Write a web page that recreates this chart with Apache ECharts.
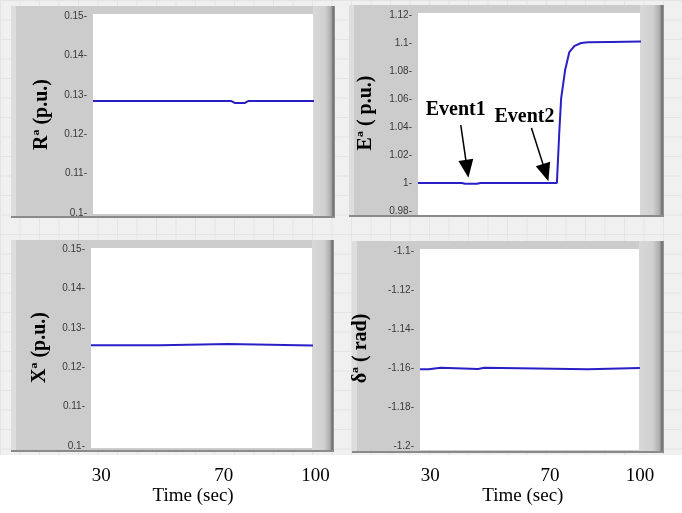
<!DOCTYPE html>
<html>
<head>
<meta charset="utf-8">
<script src="https://cdn.jsdelivr.net/npm/echarts@6/dist/echarts.min.js"></script>
<style>
  html, body { margin: 0; padding: 0; background: #fff; }
  #wrap { position: relative; width: 682px; height: 513px; }
  #bg {
    position: absolute; left: 0; top: 0; width: 682px; height: 455px;
    background-color: #f0f0f0;
    background-image: linear-gradient(#e4e4e4 1px, transparent 1px),
                      linear-gradient(90deg, #e4e4e4 1px, transparent 1px);
    background-size: 19.5px 19.5px;
  }
  #main { position: absolute; left: 0; top: 0; width: 682px; height: 513px; }
</style>
</head>
<body>
<div id="wrap">
  <div id="bg"></div>
  <div id="main"></div>
</div>
<script>
// time breakpoints (sec) and values
const rTime = [26.5, 72, 73.2, 76.3, 77.5, 100];
const rVal  = [0.1284, 0.1284, 0.1279, 0.1279, 0.1284, 0.1284];

const eTime = [26.5, 41, 42, 46, 47, 72.3, 73.1, 73.7, 75.0, 76.4, 78.1, 80.3, 82.5, 90, 100];
const eVal  = [1.0, 1.0, 0.9995, 0.9995, 1.0, 1.0, 1.037, 1.0605, 1.0805, 1.0935, 1.098, 1.1, 1.1005, 1.1008, 1.101];

const xTime = [26.5, 49.2, 49.3, 71.4, 71.5, 100];
const xVal  = [0.1256, 0.1256, 0.1259, 0.1259, 0.1255, 0.1255];

const dTime = [26.5, 29.4, 29.5, 33.4, 33.5, 45.9, 46, 48, 48.1, 82.6, 82.7, 100];
const dVal  = [-1.1607, -1.1607, -1.1599, -1.1599, -1.1605, -1.1605, -1.1599, -1.1599, -1.1606, -1.1606, -1.1600, -1.1600];

const timeTicks = [30, 70, 100];
const yNames = ['Rª (p.u.)', 'Eª ( p.u.)', 'Xª (p.u.)', 'δª ( rad)'];

const pair = (t, v) => t.map((x, i) => [x, v[i]]);
const lineColor = '#2a1fc4';

// plot areas (white) and panel frames
const plots = [
  {left: 93, top: 16, width: 220, height: 197},
  {left: 418, top: 15, width: 222, height: 196},
  {left: 91, top: 249, width: 221, height: 197},
  {left: 420, top: 251, width: 219, height: 195}
];
const frames = [
  {x: 11, y: 6, r: 335, b: 218, wt: 14, wb: 214},
  {x: 349, y: 5, r: 664, b: 217, wt: 13, wb: 215},
  {x: 11, y: 240, r: 334, b: 452, wt: 248, wb: 448},
  {x: 352, y: 241, r: 664, b: 453, wt: 249, wb: 450}
];

const graphic = [];
frames.forEach((f, i) => {
  const p = plots[i];
  const pr = p.left + p.width;
  graphic.push({type: 'rect', z: -10, shape: {x: f.x, y: f.y, width: f.r - f.x, height: f.b - f.y},
    style: {fill: '#cccccc'}});
  graphic.push({type: 'rect', z: -9, shape: {x: f.x, y: f.y, width: 5, height: f.b - f.y},
    style: {fill: '#dddddd'}});
  graphic.push({type: 'rect', z: -9, shape: {x: pr, y: f.y, width: f.r - pr, height: f.b - f.y},
    style: {fill: new echarts.graphic.LinearGradient(0, 0, 1, 0, [
      {offset: 0, color: '#d8d8d8'},
      {offset: 0.55, color: '#d0d0d0'},
      {offset: 0.82, color: '#acacac'},
      {offset: 0.92, color: '#6c6c6c'},
      {offset: 1, color: '#a0a0a0'}
    ])}});
  graphic.push({type: 'rect', z: -8, shape: {x: f.x, y: f.b - 2, width: f.r - f.x, height: 2},
    style: {fill: '#8a8a8a'}});
  graphic.push({type: 'rect', z: -7, shape: {x: p.left, y: f.wt, width: p.width, height: f.wb - f.wt},
    style: {fill: '#ffffff'}});
});

const yRanges = [
  {min: 0.1, max: 0.15, interval: 0.01, gap: 41},
  {min: 0.98, max: 1.12, interval: 0.02, gap: 42},
  {min: 0.1, max: 0.15, interval: 0.01, gap: 41},
  {min: -1.2, max: -1.1, interval: 0.02, gap: 49}
];
const xMax = [98.8, 99.7, 98.8, 99.7];

const grids = plots.map(p => Object.assign({show: false}, p));
// two thin grids carrying the time labels below the bottom row
grids.push({left: 90.6, top: 447, width: 225, height: 1});
grids.push({left: 419.7, top: 447, width: 220.3, height: 1});

const xAxes = plots.map((p, i) => ({
  type: 'value', gridIndex: i, min: 26.5, max: xMax[i], show: false
}));
[4, 5].forEach((g, k) => {
  xAxes.push({
    type: 'value', gridIndex: g, min: 26.5, max: 100,
    axisLine: {show: false}, axisTick: {show: false}, splitLine: {show: false},
    axisLabel: {customValues: timeTicks, margin: 19, fontSize: 19,
      fontFamily: 'Liberation Serif', color: '#000'},
    name: 'Time (sec)', nameLocation: 'middle', nameGap: 38,
    nameTextStyle: {fontSize: 19, fontFamily: 'Liberation Serif', color: '#000',
      padding: [0, k === 0 ? 20 : 14, 0, 0]}
  });
});

const yAxes = yRanges.map((r, i) => ({
  type: 'value', gridIndex: i, min: r.min, max: r.max, interval: r.interval,
  axisLine: {show: false}, axisTick: {show: false}, splitLine: {show: false},
  axisLabel: {fontSize: 10, fontFamily: 'Liberation Sans', color: '#3a3a3a', margin: 6,
    formatter: v => v + '-'},
  name: yNames[i], nameLocation: 'middle', nameRotate: 90, nameGap: r.gap,
  nameTextStyle: {fontSize: 20, fontWeight: 'bold', fontFamily: 'Liberation Serif', color: '#000'}
}));
// dummy y axes for the label grids
[4, 5].forEach(g => yAxes.push({type: 'value', gridIndex: g, show: false}));

const lineSeries = (data, i, extra) => Object.assign({
  type: 'line', xAxisIndex: i, yAxisIndex: i, data: data, symbol: 'none',
  lineStyle: {color: lineColor, width: 2}, animation: false, clip: true
}, extra || {});

const eventText = {show: true, fontSize: 20, fontWeight: 'bold', fontFamily: 'Liberation Serif', color: '#000'};

const option = {
  animation: false,
  graphic: {elements: graphic},
  grid: grids,
  xAxis: xAxes,
  yAxis: yAxes,
  series: [
    lineSeries(pair(rTime, rVal), 0),
    lineSeries(pair(eTime, eVal), 1, {
      markLine: {
        silent: true,
        symbol: ['none', 'triangle'],
        symbolSize: [15, 18],
        lineStyle: {color: '#000', width: 1.5, type: 'solid'},
        label: {show: false},
        data: [
          [{coord: [40.6, 1.0414]}, {coord: [42.7, 1.0101]}],
          [{coord: [63.9, 1.0393]}, {coord: [68.6, 1.0074]}]
        ]
      },
      markPoint: {
        silent: true,
        symbol: 'circle', symbolSize: 0,
        label: Object.assign({position: 'inside', formatter: p => p.name}, eventText),
        data: [
          {name: 'Event1', coord: [38.95, 1.0521]},
          {name: 'Event2', coord: [61.6, 1.0471]}
        ]
      }
    }),
    lineSeries(pair(xTime, xVal), 2),
    lineSeries(pair(dTime, dVal), 3)
  ]
};

const chart = echarts.init(document.getElementById('main'), null, {renderer: 'canvas'});
chart.setOption(option);
</script>
</body>
</html>
